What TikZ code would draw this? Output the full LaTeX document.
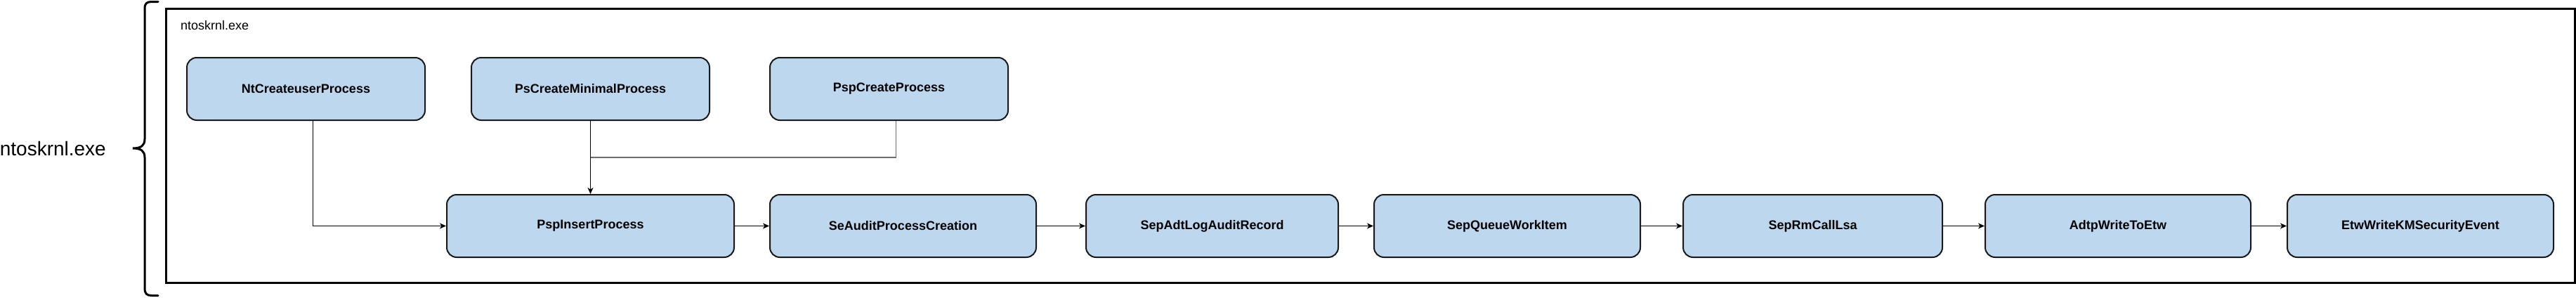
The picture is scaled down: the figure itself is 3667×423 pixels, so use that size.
\documentclass[tikz,border=0pt]{standalone}
\usepackage{fontspec}
\setmainfont{Liberation Sans}
\usetikzlibrary{arrows.meta}
\definecolor{boxfill}{RGB}{189,215,238}
\definecolor{joingray}{RGB}{110,110,110}
\tikzset{
  fnbox/.style={draw=black!90, line width=2pt, fill=boxfill, rounded corners=14pt,
    inner sep=0pt, minimum height=89pt, align=center,
    font=\fontsize{18}{22}\selectfont\bfseries},
  link/.style={draw=black, line width=1.1pt, -{Stealth[length=9pt,width=8pt,inset=2.5pt]}},
  joinline/.style={draw=joingray, line width=1.4pt},
  frame/.style={draw=black, line width=3pt},
  bracestyle/.style={draw=black, line width=3pt, line cap=round}
}
\begin{document}
\begin{tikzpicture}[x=1pt, y=-1pt]
\useasboundingbox (0,0) rectangle (3667,423);
% outer frame
\draw[frame] (236,12) rectangle (3665,402);
\node[anchor=base west, inner sep=0pt, font=\fontsize{18}{22}\selectfont] (innerlbl) at (257,42.5) {ntoskrnl.exe};
% brace
\draw[bracestyle] (225,2.5) -- (216,2.5) .. controls (209,2.5) and (206,5) .. (206,12) -- (206,198)
  .. controls (206,207) and (201,211) .. (189,211)
  .. controls (201,211) and (206,215) .. (206,224) -- (206,410)
  .. controls (206,418) and (209,420.5) .. (216,420.5) -- (225,420.5);
\node[anchor=east, inner sep=0pt, font=\fontsize{28}{32}\selectfont] (outerlbl) at (151,211) {ntoskrnl.exe};
% top row
\node[fnbox, minimum width=339pt] (nt) at (435.5,126.5) {NtCreateuserProcess};
\node[fnbox, minimum width=339pt] (psmin) at (840.5,126.5) {PsCreateMinimalProcess};
\node[fnbox, minimum width=339pt] (pspc) at (1265.5,126.5) {PspCreateProcess};
% bottom row
\node[fnbox, minimum width=409pt] (pspi) at (840.5,321.5) {PspInsertProcess};
\node[fnbox, minimum width=379pt] (seaudit) at (1285.5,321.5) {SeAuditProcessCreation};
\node[fnbox, minimum width=359pt] (sepadt) at (1725.5,321.5) {SepAdtLogAuditRecord};
\node[fnbox, minimum width=379pt] (sepq) at (2145.5,321.5) {SepQueueWorkItem};
\node[fnbox, minimum width=369pt] (seprm) at (2580.5,321.5) {SepRmCallLsa};
\node[fnbox, minimum width=378pt] (adtp) at (3015,321.5) {AdtpWriteToEtw};
\node[fnbox, minimum width=379pt] (etw) at (3445.5,321.5) {EtwWriteKMSecurityEvent};
% connectors
\coordinate (jn) at (840.5,224);
\draw[joinline] ([xshift=10pt]pspc.south) |- (jn);
\draw[link] ([xshift=10pt]nt.south) |- (pspi.west);
\draw[link] (psmin.south) -- (pspi.north);
\draw[link] (pspi.east) -- (seaudit.west);
\draw[link] (seaudit.east) -- (sepadt.west);
\draw[link] (sepadt.east) -- (sepq.west);
\draw[link] (sepq.east) -- (seprm.west);
\draw[link] (seprm.east) -- (adtp.west);
\draw[link] (adtp.east) -- (etw.west);
\end{tikzpicture}
\end{document}
